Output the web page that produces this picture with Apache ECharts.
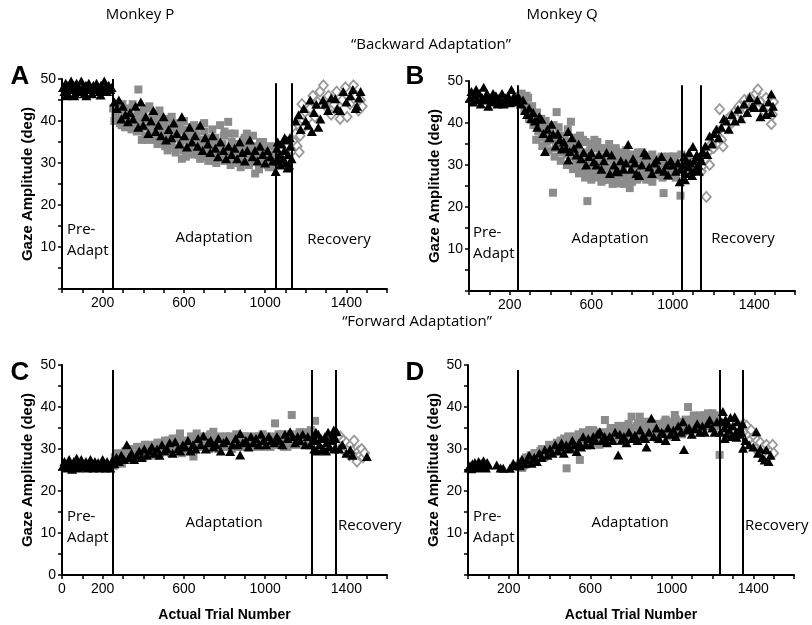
<!DOCTYPE html>
<html><head><meta charset="utf-8">
<script src="https://cdn.jsdelivr.net/npm/echarts@6/dist/echarts.min.js"></script>
<style>html,body{margin:0;padding:0;background:#fff}#c{width:812px;height:625px}</style>
</head><body><div id="c"></div><script>
// ---------- Panel A (Monkey P, backward) ----------
const aTri = [[5,48],[12,47],[18,49],[25,48.5],[30,46.5],[38,48],[45,49.5],[52,47.5],[58,48.5],[65,46.5],[72,49],[80,48],[88,47],[95,49.5],[102,48],[110,46.5],[118,48.5],[125,47.5],[132,49],[140,48],[148,46.5],[155,48.5],[162,47.5],[170,49],[178,48],[185,47],[192,48.5],[200,47.5],[208,49.5],[215,48],[222,47],[230,48.5],[238,47.5],[244,48],[20,46],[60,46],[120,46],[190,46.2],
[258,44.5],[270,43],[280,45],[292,40.5],[300,43.5],[312,41.5],[325,39.8],[335,42],[350,40.5],[362,43.5],[375,38.5],[388,44.5],[400,39],[412,41],[425,37],[438,40],[450,42.5],[462,37.5],[475,39],[488,36.5],[500,41],[512,35.5],[525,38],[538,36],[550,39.5],[565,37],[578,34.5],[590,41],[602,36.5],[615,33.8],[628,38.5],[640,35],[655,36.5],[668,34],[680,39],[692,33],[705,36],[718,34.5],[730,32.5],[742,36.5],[755,33.5],[768,31.5],[780,35],[795,33],[808,31],[820,34],[835,32],[850,33.5],[862,31],[875,35],[888,32.5],[900,30.5],[912,33],[925,35.5],[938,31.5],[950,33],[962,30.5],[975,34],[988,32],[1000,30],[1012,33],[1025,31.5],[1038,30.5],
[1052,28],[1058,33.5],[1064,30.5],[1070,32],[1076,29.5],[1082,34.5],[1088,31],[1094,33],[1100,30],[1106,35.5],[1112,32],[1118,29.5],[1124,34],[1130,31],[1062,35],[1096,36],[1110,28.8],[1122,36],
[1150,40],[1165,41.5],[1175,38],[1190,43],[1200,40],[1212,39],[1222,45],[1230,37.5],[1240,42],[1252,44],[1262,38.5],[1272,40.5],[1285,45],[1296,44],[1310,42.5],[1325,45.5],[1345,45.3],[1355,43],[1369,42.5],[1385,47],[1400,44.5],[1419,46],[1432,47.5],[1445,43],[1452,43.5],[1462,45.5],[1470,47]];
const aSq = [[252,43],[262,41.5],[272,44],[285,39.5],[294,39],[305,42],[318,40.5],[330,43],[342,38],[355,41],[368,37.5],[376,47.5],[388,40],[393,35.5],[402,42.5],[415,38.5],[430,43.5],[440,36.5],[452,40],[465,38],[478,41.5],[490,35],[502,39],[515,37],[528,40.5],[540,34.5],[552,38],[565,36],[578,39.5],[590,31],[600,33],[612,37.5],[625,35],[638,38.5],[650,33.5],[662,36.5],[675,32],[688,35.5],[700,37.5],[712,33],[725,35],[738,31.5],[744,30.5],[755,36],[768,33],[778,39],[790,34.5],[802,32],[818,39.8],[828,37],[840,31],[852,34.5],[868,30],[880,33],[895,35.5],[910,37],[922,31],[935,33.5],[951,27.5],[962,32],[975,35],[988,30],[1000,32.5],[1012,29.5],[1025,31],[1038,29],[1045,32],[1060,31],[1090,30],[1120,32],
[258,40],[268,43.5],[280,41],[298,44],[310,38.5],[322,42.5],[336,40],[348,44],[360,39],[372,42],[382,38],[396,41],[408,36.5],[420,40.5],[434,38],[446,41],[458,35.5],[470,39.5],[482,37.5],[495,40],[508,34],[520,38.5],[533,36],[546,39],[558,33.5],[570,37.5],[584,34.5],[596,38],[607,35.5],[620,33],[632,36.5],[645,34],[658,38],[670,35],[682,32.5],[695,34.5],[706,31.5],[718,36],[732,34],[748,32.5],[762,35],[775,31.5],[785,34],[797,36.5],[810,33],[822,31],[835,35],[848,32.5],[860,34.5],[873,31],[886,33],[900,32],[915,34.5],[928,30.5],[942,32],[956,34],[968,30],[982,31.5],[995,33.5],[1006,31],[1018,29],[1032,32],[1042,30],
[420,35.5],[470,34.5],[520,33],[560,32.5],[610,31.5],[640,32],[680,31],[720,30.5],[760,30],[800,30.5],[830,29.5],[880,29],[920,29.5],[970,28.5],
[420,43],[480,42.5],[540,41],[600,40],[650,39],[700,39.5],[740,38],[800,37.5],[850,37],[900,36],[940,36.5],[990,35],[1030,34]];
const aDia = [[1135,33],[1142,35],[1150,37],[1158,34],[1165,39],[1172,36.5],[1181,44],[1190,38.5],[1200,42],[1210,40.5],[1222,43],[1235,46],[1245,41],[1258,44.5],[1270,47],[1287,48.5],[1300,43.5],[1312,46],[1325,41.5],[1340,44],[1352,47],[1369,40.5],[1380,45],[1395,48],[1404,41],[1418,44],[1435,48.5],[1448,46],[1460,42.5],[1470,45],[1478,43.5],[1168,32.6]];
// ---------- Panel B (Monkey Q, backward) ----------
const bTri = [[5,46],[12,47.5],[20,45],[28,46.5],[35,48],[42,45.5],[50,47],[58,44.5],[65,46],[72,48.5],[80,45.5],[88,47],[95,44],[102,46],[110,45],[118,47],[125,45.5],[132,46.5],[140,44.5],[148,46],[155,45],[162,47],[170,44.5],[178,46],[185,45.5],[192,46.5],[200,44.8],[208,48],[215,45.5],[222,46.5],[230,45],[236,46],
[245,46],[255,44.5],[265,45.5],[275,43],[285,42],[295,43.5],[305,41],[315,42.5],[324,40.5],[335,39],[345,41.5],[356,40.9],[365,37.5],[373,33.2],[385,38.5],[395,36.5],[405,39.7],[413,37.3],[425,34.5],[436,37.5],[446,36],[456,33.8],[465,35.5],[476,34],[487,38],[487,31.2],[495,33.2],[505,36.5],[515,34],[528,32.4],[538,35],[550,31.5],[562,33],[575,30],[588,32],[601,32.9],[613,30.8],[626,30],[638,32.5],[650,29],[662,31],[675,33],[691,28],[700,32.4],[712,30],[722,28.5],[732,28.4],[745,31],[758,29],[770,30.5],[781,34.9],[795,29],[805,31.5],[814,30.5],[822,28],[835,27.5],[848,30],[860,33],[871,32.4],[885,29.5],[898,28],[910,30.5],[920,31.2],[932,29],[945,32],[958,28.5],[970,30],[977,27.6],[990,31],[1001,30],[1015,28.5],[1025,30.5],[1034,26],[1040,29],
[1050,30],[1056,32],[1062,28],[1068,31],[1074,29.5],[1080,33],[1086,30.5],[1092,28.5],[1099,34.4],[1105,31],[1112,29],[1118,32.5],[1125,30],[1132,32],[1060,26.5],[1095,27.5],[1128,28.5],
[1140,31],[1150,33],[1160,34.5],[1170,32.5],[1181,36.9],[1192,35],[1203,37.5],[1214,38.5],[1225,36.5],[1238,39],[1250,41],[1263,40.5],[1275,38.5],[1290,42],[1305,40.5],[1320,43.3],[1335,41],[1350,44.5],[1365,42.5],[1377,46.1],[1390,44],[1402,43.7],[1415,45.5],[1430,41.5],[1443,43.7],[1458,42],[1470,45],[1484,46.9],[1484,42.5],[1492,44]];
const bSq = [[248,46.5],[258,47],[268,45],[278,44],[290,46],[302,42.5],[310,44],[323,41],[334,42.5],[345,39.5],[355,41],[365,38],[376,40.5],[388,37],[400,38.5],[412,23.4],[430,42.6],[420,36],[440,39],[452,34.5],[462,37],[475,35],[485,38.5],[500,40.3],[505,33],[515,36.5],[525,31],[535,34.5],[545,37],[555,32],[565,28.5],[572,35.5],[581,21.4],[585,30],[595,33.5],[605,27.5],[615,36],[625,31.5],[635,29],[645,34],[655,27],[659,26.4],[665,32],[678,29.5],[688,35],[700,26.5],[710,31],[720,33.5],[730,28],[740,25.6],[752,30],[762,32.5],[775,27],[789,24.5],[800,29.5],[812,32],[825,26.5],[838,30],[850,33],[862,27.5],[875,31],[888,29],[900,26],[912,31.5],[928,28.8],[940,30.5],[955,23.3],[965,27.5],[978,32],[990,29],[1003,31.5],[1015,27],[1025,30],[1038,22.7],[1042,32.5],[1055,30],[1075,32],[1100,29],[1120,31],
[252,45],[262,45.5],[272,43],[282,46.5],[295,41],[305,43.5],[316,39.5],[328,41.5],[340,38],[350,40.5],[360,36.5],[370,39],[382,35.5],[392,38],[405,36],[415,39.5],[426,34],[436,37],[448,35.5],[458,33],[470,36.5],[480,32.5],[492,35],[510,32],[520,34.5],[530,29.5],[540,33],[550,35.5],[560,30.5],[578,33],[590,28],[600,31.5],[610,34],[620,29.5],[630,27],[640,32],[650,30.5],[670,28],[683,31.5],[695,29],[705,33],[715,27.5],[725,30],[735,32],[747,27.5],[757,29],[768,31.5],[780,26.5],[795,31],[807,28],[818,30.5],[830,29],[843,31.5],[856,28],[868,30.5],[880,27],[893,31],[905,29.5],[918,27.5],[933,30],[946,32],[960,29.5],[972,31],[985,27.5],[997,30],[1010,32],[1020,29],[1032,30.5],
[330,36],[360,34.5],[390,33.5],[420,32],[450,31],[480,30],[510,29],[540,28],[570,27],[600,26.5],[625,27.5],[650,26],[675,26.5],[705,25.5],[725,26],[760,25.5],[800,26],[840,27],[870,26.5],[950,27],[1000,27.5],
[540,36.5],[560,36],[600,35],[630,35.5],[660,34],[690,33.5],[720,34],[745,33],[770,33.5],[800,32.5],[830,33],[870,32],[900,32.5],[960,31.5],[1000,32]];
const bDia = [[1140,28.5],[1150,30],[1160,31.5],[1165,22.4],[1172,33],[1181,30],[1190,35],[1200,34],[1210,36.5],[1220,38],[1230,43.3],[1240,36],[1247,34.4],[1258,39],[1270,41],[1279,41.3],[1290,40],[1300,42.5],[1312,41],[1325,44],[1340,42],[1352,45.5],[1365,43],[1380,46],[1395,44.5],[1408,47],[1418,48],[1430,45],[1445,43],[1458,46],[1470,44],[1484,39.7],[1490,42],[1495,45]];
// ---------- Panel C (Monkey P, forward) ----------
const cTri = [[5,26],[12,27],[20,25.5],[28,26.5],[35,27.5],[42,26],[50,25.2],[58,27],[65,26],[72,27.8],[80,25.5],[88,26.5],[95,27.5],[102,25.8],[110,26.5],[118,27],[125,25.5],[132,26.2],[140,27.5],[148,26],[155,25.5],[162,27],[170,26],[178,26.8],[185,25.5],[192,26.5],[200,27.5],[208,26],[215,25.5],[222,27],[230,26.2],[238,25.5],[245,27],
[258,26.5],[268,28],[280,27],[292,28.5],[305,27.5],[319,31],[330,28],[342,29],[355,27.5],[368,28.5],[380,29.5],[392,28],[405,30],[418,28.5],[430,29.5],[442,30.5],[455,29],[468,30],[480,28.5],[492,31],[505,29.5],[518,30],[530,31.5],[545,29],[557,31.7],[570,30],[582,29.5],[595,31],[608,30.5],[620,32],[632,29.5],[645,31],[658,30],[670,32.5],[683,31],[696,33.1],[708,30],[720,31.5],[732,32],[745,30.5],[758,31],[770,32.5],[782,29.5],[795,31.5],[810,32],[828,29.4],[840,31],[855,32.5],[865,31],[877,33.7],[877,28.6],[890,31.5],[905,32],[918,30.5],[930,33],[942,31.5],[955,32.5],[968,31],[980,33.5],[992,32],[1005,31],[1018,33],[1030,32],[1045,31.5],[1058,33],[1070,32],[1085,31],[1098,33.5],[1110,32.5],[1123,34.1],[1135,33],[1148,31.5],[1160,33],[1172,32],[1185,33.5],[1198,31],[1210,33],[1222,31],
[1235,33],[1242,30],[1248,32],[1255,29.5],[1262,33.5],[1268,31],[1275,32.5],[1282,30],[1287,29.8],[1295,33],[1302,31.5],[1310,34],[1318,30.5],[1325,32],[1332,33.5],[1340,30],[1345,32.5],[1250,34],[1300,29.5],[1338,34.5],
[1353,34.1],[1365,30],[1380,31],[1400,29],[1419,29.8],[1430,28.5],[1501,28.2]];
const cSq = [[255,26],[265,27.5],[275,29],[288,27],[300,28],[312,29.5],[325,27.5],[338,28.5],[350,30],[362,28],[375,29.5],[388,30.5],[400,28],[412,29.5],[425,31],[438,29],[450,30.5],[462,28.5],[475,30],[488,31.5],[500,29.5],[512,30.5],[525,32],[538,29],[550,31],[562,30],[575,32.5],[581,33.7],[590,29],[602,31.5],[615,30],[628,32],[640,31],[647,28.2],[655,32.5],[663,33.7],[675,30.5],[688,32],[700,31],[712,33],[725,30],[738,32],[745,34.1],[758,31.5],[770,30],[782,32.5],[795,31],[808,33],[820,30.5],[832,32],[845,31],[858,33.5],[870,30.5],[882,32.5],[895,31],[908,33],[920,32],[932,30.5],[945,32.5],[958,31],[970,33],[982,32],[995,30.5],[1008,33],[1020,32],[1035,31],[1049,36.1],[1060,32.5],[1072,31],[1085,33.5],[1098,32],[1110,30.5],[1131,38.1],[1140,32.5],[1152,31],[1165,33.5],[1178,32],[1190,34],[1202,31.5],[1215,33],[1225,34.5],[1246,36.7],
[260,28],[270,26.5],[282,28.5],[295,26.5],[306,29],[318,28],[332,30],[345,27.5],[358,29.5],[370,30.5],[382,28],[395,30],[408,31],[420,29],[432,30.5],[445,28.5],[458,31],[470,31.5],[483,29],[495,31],[507,32],[520,29.5],[532,31],[545,32.5],[556,30],[568,31.5],[585,30.5],[597,32],[610,29.5],[622,31],[635,33],[650,30],[668,31.5],[680,33],[693,30.5],[705,32],[718,31],[730,33.5],[752,32.5],[765,31],[778,33],[790,30.5],[802,32],[815,31.5],[826,33],[838,30],[850,32],[864,31.5],[876,32.5],[888,30.5],[900,33],[913,31],[926,32.5],[938,31.5],[950,33],[963,30.5],[976,32],[988,33.5],[1000,31],[1014,32.5],[1027,30.5],[1040,33],[1054,31],[1066,33.5],[1078,32],[1092,30.5],[1104,33],[1116,31.5],[1125,33.5],[1146,31],[1158,32.5],[1170,34],[1184,31],[1196,33],[1208,32],[1220,31]];
const cDia = [[1355,32.5],[1362,31],[1370,33],[1378,30.5],[1385,32],[1392,29.5],[1400,31.5],[1408,30],[1415,28.5],[1422,31],[1430,29.5],[1438,32],[1445,28],[1452,27],[1460,29.5],[1468,28.5],[1475,30],[1482,28],[1490,29]];
// ---------- Panel D (Monkey Q, forward) ----------
const dTri = [[3,25.5],[10,26],[16,25.3],[22,26.5],[28,25.8],[34,26.8],[40,25.5],[46,26.2],[52,27],[58,25.6],[64,26.5],[70,25.8],[76,27.2],[82,26],[88,25.5],[94,26.8],[100,26.2],[141,26.2],[160,25.5],[173,25.4],[206,25.4],[222,26.6],[235,26],
[255,26],[265,27.5],[278,26.5],[288,27.4],[300,28.5],[312,26.6],[325,28],[338,27],[350,29],[362,28],[377,29.8],[390,28.5],[402,30],[415,29],[428,31],[440,29.5],[450,30.5],[459,31.4],[470,29],[482,31],[490,30],[500,30.2],[512,32],[522,31],[533,29.4],[545,31.5],[555,30.5],[565,32.9],[578,31],[590,32.5],[602,31],[615,33],[625,32],[635,33.5],[647,34.1],[658,32],[670,33],[682,31.5],[695,33],[710,32],[722,34],[737,28.6],[745,33.5],[753,32.1],[765,33],[778,31.5],[790,34],[805,32.5],[819,33.3],[832,32],[845,34.5],[858,33],[870,32.5],[876,30.5],[888,34],[900,37.3],[912,33],[925,35],[938,32.5],[950,34],[957,33.7],[970,32],[982,35],[995,33.5],[1008,34.5],[1020,33],[1032,35.5],[1045,34],[1055,36.5],[1060,29.9],[1072,34.5],[1085,35],[1098,33.5],[1113,34.9],[1125,36],[1138,34],[1150,35.5],[1162,34],[1175,36],[1186,36.9],[1198,35],[1210,34],[1222,36.5],
[1238,34],[1245,36.5],[1251,38.9],[1258,35],[1264,37],[1270,33.5],[1276,36],[1282,34.5],[1288,37.5],[1294,33],[1300,35.5],[1309,37.7],[1315,34],[1322,36.5],[1328,33.5],[1335,35],[1342,34],[1348,36],[1260,32.5],[1318,32.8],
[1350,30.2],[1362,32],[1380,31],[1400,30.5],[1415,34.1],[1423,29],[1435,30],[1445,28],[1456,27.4],[1464,29.8],[1475,27],[1485,28.5]];
const dSq = [[250,25.8],[262,27],[272,26],[285,28],[295,27],[308,28.5],[320,27.5],[332,29],[345,27.8],[355,29.5],[368,28.5],[380,30],[392,29],[405,30.5],[418,29.5],[430,31],[442,30],[455,32],[465,30.5],[478,31.5],[484,25.4],[492,33],[505,30.5],[518,32],[530,31],[542,33.5],[549,27.4],[558,31.5],[570,33],[582,32],[595,34.5],[608,31.5],[620,33],[632,34],[645,31],[658,33.5],[672,36.9],[682,32.5],[695,34],[708,32],[720,35],[732,33],[745,34.5],[758,32],[770,35.5],[782,33.5],[795,35],[803,37.7],[815,33],[828,35.5],[843,37.7],[852,34],[865,32.5],[878,35],[890,33.5],[902,36],[915,34],[928,32.5],[940,35.5],[952,34],[965,36.5],[978,33],[990,35],[1003,36.5],[1015,38.1],[1025,34],[1038,36],[1050,33.5],[1062,35.5],[1080,40],[1090,35],[1102,37],[1115,34.5],[1128,36.5],[1140,38],[1152,35],[1165,37.5],[1178,38.5],[1190,36],[1200,38.5],[1212,37],[1225,35.5],[1235,28.6],
[256,26.5],[266,25.5],[278,27.5],[290,26.5],[302,28],[314,27],[326,29],[338,28],[350,28.5],[362,30],[374,28],[386,29.5],[398,31],[410,29],[424,30],[436,31.5],[448,29.5],[460,31],[472,32.5],[496,30],[510,31.5],[524,33],[536,30.5],[552,32],[564,34],[576,31],[588,33],[600,32.5],[614,34.5],[626,31.5],[638,33],[652,32],[664,34],[676,31.5],[688,33.5],[700,35],[714,32.5],[726,34],[738,35.5],[750,33],[764,34.5],[776,32],[788,36],[800,33.5],[810,35],[822,34],[835,36],[848,33],[860,35],[872,36.5],[884,33],[896,34.5],[908,35.5],[920,33],[934,36],[946,34.5],[958,35],[970,37],[984,34],[996,36],[1008,34.5],[1020,37],[1032,35],[1044,36.5],[1056,34],[1068,37],[1096,36],[1108,38],[1120,35.5],[1134,37],[1146,36],[1158,38],[1170,35.5],[1184,37.5],[1196,37],[1206,35],[1218,38],[1228,36]];
const dDia = [[1352,36],[1360,34],[1368,35.5],[1375,33],[1382,32],[1390,34.5],[1398,31],[1405,33],[1412,30],[1420,32],[1428,29.5],[1435,31.5],[1442,28.5],[1450,30.5],[1458,29],[1465,31],[1472,28],[1480,30],[1488,29.5],[1495,31],[1500,29]];
// phase boundaries (trial numbers) and their top values
const phaseA = [250,1050,1130], topA = [50,49,49];
const phaseB = [240,1045,1135], topB = [49,49,49];
const phaseC = [250,1230,1350], topC = [48.8,48.8,48.8];
const phaseD = [245,1235,1350], topD = [48.8,48.8,48.8];
const xTickLabelsTop = [200,600,1000,1400];
const xTickLabelsC = [0,200,600,1000,1400];
const yTickLabels = [10,20,30,40,50];
const yTickLabelsC = [0,10,20,30,40,50];

const chart = echarts.init(document.getElementById('c'), null, {renderer:'canvas'});
const gridsPx = [
  {left:62, top:79, width:325, height:210},
  {left:469, top:81, width:326, height:210},
  {left:62, top:365, width:325, height:210},
  {left:468, top:365, width:326, height:210}
];
const xLabs = [xTickLabelsTop, xTickLabelsTop, xTickLabelsC, xTickLabelsTop];
const yLabs = [yTickLabels, yTickLabels, yTickLabelsC, yTickLabels];
const axisFont = 'Liberation Sans';
const xAxes = gridsPx.map((g,i)=>({
  gridIndex:i, type:'value', min:0, max:1600, interval:100,
  axisLine:{show:true, lineStyle:{color:'#000', width:2}},
  axisTick:{show:true, length:4, lineStyle:{color:'#000', width:1.5}},
  splitLine:{show:false},
  axisLabel:{margin:7, color:'#000', fontSize:14, fontFamily:axisFont,
    formatter:v=> xLabs[i].includes(v) ? String(v) : ''},
  name: i>=2 ? 'Actual Trial Number' : '', nameLocation:'middle', nameGap:33,
  nameTextStyle:{fontFamily:axisFont, fontWeight:'bold', fontSize:14, color:'#000'}
}));
const yAxes = gridsPx.map((g,i)=>({
  gridIndex:i, type:'value', min:0, max:50, interval:5,
  axisLine:{show:true, onZero:false, lineStyle:{color:'#000', width:2}},
  axisTick:{show:true, length:4, lineStyle:{color:'#000', width:1.5}},
  splitLine:{show:false},
  axisLabel:{margin:6, color:'#000', fontSize:14, fontFamily:axisFont,
    formatter:v=> yLabs[i].includes(v) ? String(v) : ''},
  name:'Gaze Amplitude (deg)', nameLocation:'middle', nameGap:27,
  nameTextStyle:{fontFamily:axisFont, fontWeight:'bold', fontSize:15, color:'#000'}
}));
const panels = [
  {tri:aTri, sq:aSq, dia:aDia, ph:phaseA, top:topA},
  {tri:bTri, sq:bSq, dia:bDia, ph:phaseB, top:topB},
  {tri:cTri, sq:cSq, dia:cDia, ph:phaseC, top:topC},
  {tri:dTri, sq:dSq, dia:dDia, ph:phaseD, top:topD}
];
const series = [];
panels.forEach((p,i)=>{
  series.push({type:'scatter', xAxisIndex:i, yAxisIndex:i, data:p.sq, symbol:'rect', symbolSize:8,
    itemStyle:{color:'#8c8c8c', opacity:1}, silent:true});
  series.push({type:'scatter', xAxisIndex:i, yAxisIndex:i, data:p.dia, symbol:'diamond', symbolSize:[9,10],
    itemStyle:{color:'#fff', borderColor:'#999', borderWidth:1.8, opacity:1}, silent:true});
  series.push({type:'scatter', xAxisIndex:i, yAxisIndex:i, data:p.tri, symbol:'triangle', symbolSize:[10,9],
    itemStyle:{color:'#000', opacity:1}, silent:true,
    markLine:{silent:true, symbol:'none', label:{show:false}, animation:false,
      lineStyle:{color:'#000', width:2, type:'solid'},
      data:p.ph.map((x,k)=>[{coord:[x,0]},{coord:[x,p.top[k]]}])}});
});
const T = (text, x, y, opt={}) => ({type:'text', x, y, style:Object.assign({text, fill:'#000',
  font:'15px "Open Sans"', textAlign:'center', textVerticalAlign:'middle'}, opt)});
const region = '15px "Open Sans"';
const graphic = [
  T('Monkey P', 140, 15), T('Monkey Q', 562, 15),
  T('\u201cBackward Adaptation\u201d', 431, 45), T('\u201cForward Adaptation\u201d', 417, 322),
  T('A', 20, 77, {font:'bold 26px "Liberation Sans"'}), T('B', 415, 77, {font:'bold 26px "Liberation Sans"'}),
  T('C', 20, 373, {font:'bold 26px "Liberation Sans"'}), T('D', 415, 373, {font:'bold 26px "Liberation Sans"'}),
  T('Pre-', 67, 230, {font:region, textAlign:'left'}), T('Adapt', 67, 251, {font:region, textAlign:'left'}),
  T('Adaptation', 214, 238, {font:region}), T('Recovery', 339, 240, {font:region}),
  T('Pre-', 473, 233, {font:region, textAlign:'left'}), T('Adapt', 473, 254, {font:region, textAlign:'left'}),
  T('Adaptation', 610, 239, {font:region}), T('Recovery', 743, 239, {font:region}),
  T('Pre-', 67, 517, {font:region, textAlign:'left'}), T('Adapt', 67, 538, {font:region, textAlign:'left'}),
  T('Adaptation', 224, 523, {font:region}), T('Recovery', 338, 526, {font:region, textAlign:'left'}),
  T('Pre-', 473, 517, {font:region, textAlign:'left'}), T('Adapt', 473, 538, {font:region, textAlign:'left'}),
  T('Adaptation', 630, 523, {font:region}), T('Recovery', 745, 526, {font:region, textAlign:'left'})
];
chart.setOption({
  animation:false, backgroundColor:'#fff',
  grid:gridsPx, xAxis:xAxes, yAxis:yAxes, series, graphic
});
</script></body></html>
